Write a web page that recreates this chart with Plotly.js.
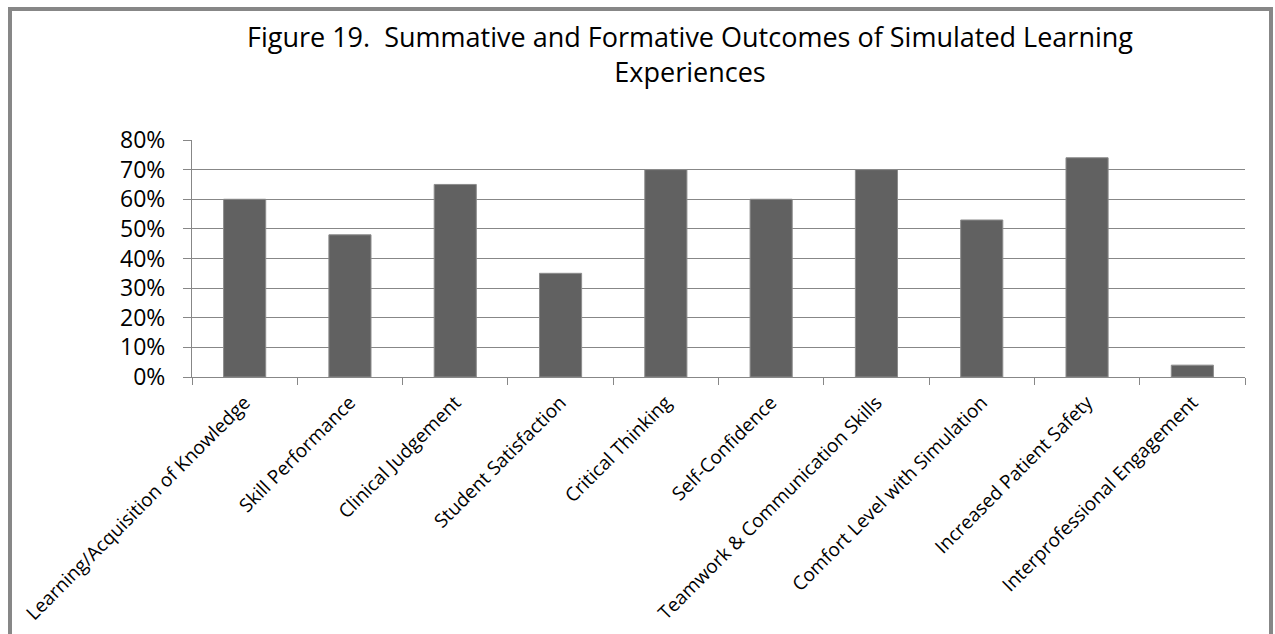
<!DOCTYPE html>
<html>
<head>
<meta charset="utf-8">
<script src="https://cdn.plot.ly/plotly-3.0.1.min.js"></script>
<style>
html, body { margin: 0; padding: 0; background: #ffffff; }
#chart { width: 1275px; height: 634px; }
</style>
</head>
<body>
<div id="chart"></div>
<script>
const categories = [
  "Learning/Acquisition of Knowledge",
  "Skill Performance",
  "Clinical Judgement",
  "Student Satisfaction",
  "Critical Thinking",
  "Self-Confidence",
  "Teamwork & Communication Skills",
  "Comfort Level with Simulation",
  "Increased Patient Safety",
  "Interprofessional Engagement"
];
const values = [0.60, 0.48, 0.65, 0.35, 0.70, 0.60, 0.70, 0.53, 0.74, 0.04];
const yTickValues = [0, 0.1, 0.2, 0.3, 0.4, 0.5, 0.6, 0.7, 0.8];
const titleText = "Figure 19.  Summative and Formative Outcomes of Simulated Learning<br>Experiences";

const FONT = "Open Sans, Liberation Sans, sans-serif";
const GRAY = "#878787";

const W = 1275, H = 634;
const L = 192, R = 30, T = 140, B = 257;
const pw = W - L - R, ph = H - T - B;
const px = x => (x - L) / pw;
const py = y => (H - B - y) / ph;

const trace = {
  type: "bar",
  x: categories,
  y: values,
  marker: { color: "#616161", line: { color: "#8c8c8c", width: 1 } },
  hoverinfo: "x+y"
};

const layout = {
  width: W, height: H,
  margin: { l: L, r: R, t: T, b: B, pad: 0 },
  paper_bgcolor: "#ffffff",
  plot_bgcolor: "#ffffff",
  showlegend: false,
  bargap: 0.6,
  font: { family: FONT, color: "#000000" },
  title: {
    text: titleText,
    font: { family: FONT, size: 27, color: "#000000" },
    xref: "container", x: 690 / W, xanchor: "center",
    yref: "container", y: 1 - 47 / H, yanchor: "top"
  },
  xaxis: {
    type: "category",
    tickangle: -45,
    tickson: "boundaries",
    ticks: "outside", ticklen: 7, tickwidth: 1, tickcolor: GRAY,
    showgrid: false,
    showline: true, linecolor: GRAY, linewidth: 1,
    tickfont: { family: FONT, size: 19, color: "#000000" },
    ticklabelstandoff: 6,
    fixedrange: true
  },
  yaxis: {
    range: [0, 0.8],
    tickvals: yTickValues,
    tickformat: ".0%",
    ticks: "outside", ticklen: 8, tickwidth: 1, tickcolor: GRAY,
    showgrid: true, gridcolor: GRAY, gridwidth: 1,
    zeroline: false,
    showline: true, linecolor: GRAY, linewidth: 1,
    tickfont: { family: FONT, size: 23, color: "#000000" },
    ticklabelstandoff: 13,
    fixedrange: true
  },
  shapes: [
    {
      type: "rect", xref: "paper", yref: "paper",
      x0: px(10), x1: px(1271), y0: py(9), y1: py(700),
      line: { color: GRAY, width: 4 }, fillcolor: "rgba(0,0,0,0)", layer: "below"
    }
  ]
};

Plotly.newPlot("chart", [trace], layout, { displayModeBar: false, staticPlot: true });
</script>
</body>
</html>
